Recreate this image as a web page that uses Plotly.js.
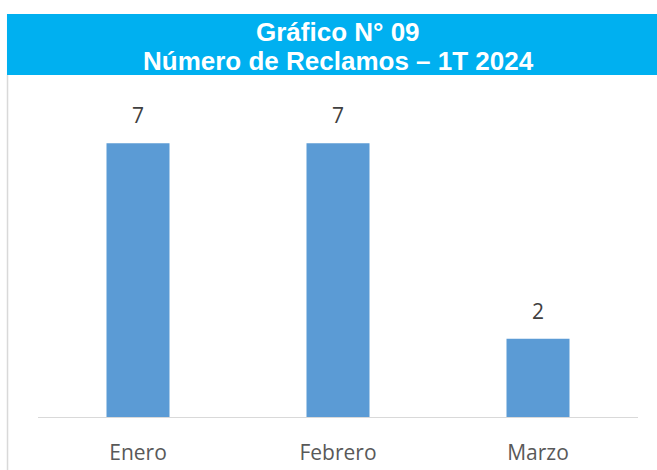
<!DOCTYPE html>
<html>
<head>
<meta charset="utf-8">
<script src="https://cdn.plot.ly/plotly-3.0.1.min.js"></script>
<style>html,body{margin:0;padding:0;background:#fff;}#chart{width:657px;height:470px;}</style>
</head>
<body>
<div id="chart"></div>
<script>
const months = ["Enero", "Febrero", "Marzo"];
const reclamos = [7, 7, 2];
const titleLines = ["Gráfico N° 09", "Número de Reclamos – 1T 2024"];

const trace = {
  type: "bar",
  x: months,
  y: reclamos,
  width: 0.315,
  marker: {color: "#5B9BD5"},
  hoverinfo: "skip"
};

// paper y for a given pixel y (plot area: top 104, height 313)
const py = (pix) => (417 - pix) / 313;

const titleAnns = titleLines.map((t, i) => ({
  xref: "paper", yref: "paper", x: 0.5, y: py([32, 61][i]),
  xanchor: "center", yanchor: "middle", text: t, showarrow: false,
  font: {family: "Liberation Sans", size: 26, color: "#ffffff", weight: "bold"}
}));

const valueAnns = months.map((m, i) => ({
  x: m, y: reclamos[i], xref: "x", yref: "y",
  text: String(reclamos[i]), showarrow: false,
  yanchor: "bottom", yshift: 12,
  font: {family: "Open Sans", size: 21, color: "#404040"}
}));

const layout = {
  width: 657, height: 470,
  margin: {l: 38, r: 19, t: 104, b: 53},
  paper_bgcolor: "#ffffff",
  plot_bgcolor: "#ffffff",
  showlegend: false,
  xaxis: {
    showgrid: false, zeroline: false,
    showline: true, linecolor: "#D9D9D9", linewidth: 1.3,
    ticks: "outside", ticklen: 16, tickcolor: "rgba(0,0,0,0)",
    tickfont: {family: "Open Sans", size: 21, color: "#595959"},
    fixedrange: true
  },
  yaxis: {
    range: [0, 8], visible: false, showgrid: false, zeroline: false, fixedrange: true
  },
  shapes: [
    {type: "rect", xref: "paper", yref: "paper", x0: -0.0517, x1: 1.04, y0: py(75), y1: py(14),
     fillcolor: "#00B0F0", line: {width: 0}, layer: "below"},
    {type: "line", xref: "paper", yref: "paper", x0: -0.0508, x1: -0.0508, y0: py(75), y1: -0.2,
     line: {color: "#D9D9D9", width: 1.5}}
  ],
  annotations: titleAnns.concat(valueAnns)
};

Plotly.newPlot("chart", [trace], layout, {displayModeBar: false, staticPlot: true});
</script>
</body>
</html>
